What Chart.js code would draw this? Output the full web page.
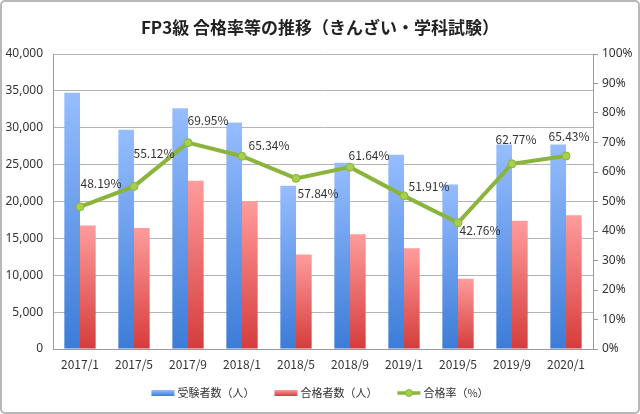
<!DOCTYPE html>
<html>
<head>
<meta charset="utf-8">
<script src="https://cdn.jsdelivr.net/npm/chart.js@4/dist/chart.umd.min.js"></script>
<style>
  html, body { margin: 0; padding: 0; background: #fff; }
  #wrap { width: 640px; height: 414px; position: relative; }
</style>
</head>
<body>
<div id="wrap"><canvas id="fp3-chart" width="640" height="414"></canvas></div>
<script>
// data
var labels = ["2017/1", "2017/5", "2017/9", "2018/1", "2018/5", "2018/9", "2019/1", "2019/5", "2019/9", "2020/1"];
var examinees = [34733, 29738, 32636, 30705, 22130, 25266, 26323, 22290, 27718, 27714];
var passers = [16740, 16392, 22829, 20062, 12800, 15574, 13664, 9531, 17399, 18133];
var passRate = [48.19, 55.12, 69.95, 65.34, 57.84, 61.64, 51.91, 42.76, 62.77, 65.43];
var leftTicks = [0, 5000, 10000, 15000, 20000, 25000, 30000, 35000, 40000];
var rightTicks = [0, 10, 20, 30, 40, 50, 60, 70, 80, 90, 100];

var FONT = '"Noto Sans CJK JP", "Noto Sans", sans-serif';
var GREEN = '#8ab43c';

// label nudges, as in the picture (px from point)
var labelOffsets = [[21, -23], [20, -33], [20, -22], [27, -11], [22, 15], [19, -12], [25, -9], [22, 8], [4, -24], [3, -20]];

function barGradient(top, bottom) {
  return function (c) {
    var chart = c.chart;
    var y = chart.scales.y;
    if (!y || c.dataIndex === undefined) return bottom;
    var v = c.dataset.data[c.dataIndex];
    var y0 = y.getPixelForValue(v), y1 = y.getPixelForValue(0);
    if (!isFinite(y0) || !isFinite(y1) || y0 === y1) return bottom;
    var g = chart.ctx.createLinearGradient(0, y0, 0, y1);
    g.addColorStop(0, top);
    g.addColorStop(1, bottom);
    return g;
  };
}

var framePlugin = {
  id: 'frame',
  beforeDraw: function (chart) {
    var ctx = chart.ctx;
    ctx.save();
    ctx.fillStyle = '#fff';
    ctx.fillRect(0, 0, chart.width, chart.height);
    ctx.strokeStyle = '#b8b8b8';
    ctx.lineWidth = 2;
    ctx.beginPath();
    ctx.roundRect(1, 1, chart.width - 2, chart.height - 2, 4);
    ctx.stroke();
    // title
    ctx.fillStyle = '#222';
    ctx.font = 'bold 17px ' + FONT;
    ctx.textAlign = 'center';
    ctx.textBaseline = 'middle';
    ctx.fillText('FP3級 合格率等の推移（きんざい・学科試験）', chart.width / 2, 28);
    ctx.restore();
  }
};

var rateLabels = {
  id: 'rateLabels',
  afterDatasetsDraw: function (chart) {
    var meta = chart.getDatasetMeta(2);
    var ctx = chart.ctx;
    ctx.save();
    ctx.font = '12px ' + FONT;
    ctx.fillStyle = '#333';
    ctx.textAlign = 'center';
    ctx.textBaseline = 'middle';
    meta.data.forEach(function (pt, i) {
      var o = labelOffsets[i];
      ctx.fillText(passRate[i].toFixed(2) + '%', pt.x + o[0], pt.y + o[1]);
    });
    ctx.restore();
  }
};

var bottomLegend = {
  id: 'bottomLegend',
  afterDraw: function (chart) {
    var ctx = chart.ctx;
    var items = [
      { text: '受験者数（人）', kind: 'bar', top: '#96bdfe', bottom: '#3c7cd8' },
      { text: '合格者数（人）', kind: 'bar', top: '#ff9c9c', bottom: '#d53c3c' },
      { text: '合格率（%）', kind: 'line' }
    ];
    ctx.save();
    ctx.font = '11px ' + FONT;
    var sym = 23, gap = 3, spacing = 20;
    var total = 0;
    items.forEach(function (it) {
      it.w = sym + gap + ctx.measureText(it.text).width;
      total += it.w;
    });
    total += spacing * (items.length - 1);
    var x = (chart.width - total) / 2;
    var y = 393;
    items.forEach(function (it) {
      if (it.kind === 'bar') {
        var g = ctx.createLinearGradient(0, y - 3, 0, y + 3);
        g.addColorStop(0, it.top);
        g.addColorStop(1, it.bottom);
        ctx.fillStyle = g;
        ctx.fillRect(x, y - 3, sym, 6);
      } else {
        ctx.strokeStyle = GREEN;
        ctx.lineWidth = 3.5;
        ctx.beginPath();
        ctx.moveTo(x, y);
        ctx.lineTo(x + sym, y);
        ctx.stroke();
        ctx.fillStyle = '#a6ce50';
        ctx.lineWidth = 1;
        ctx.beginPath();
        ctx.arc(x + sym / 2, y, 3.5, 0, Math.PI * 2);
        ctx.fill();
        ctx.stroke();
      }
      ctx.fillStyle = '#333';
      ctx.textAlign = 'left';
      ctx.textBaseline = 'middle';
      ctx.fillText(it.text, x + sym + gap, y);
      x += it.w + spacing;
    });
    ctx.restore();
  }
};

var ctx = document.getElementById('fp3-chart');

var chart = new Chart(ctx, {
  data: {
    labels: labels,
    datasets: [{
      type: 'bar',
      label: '受験者数（人）',
      data: examinees,
      yAxisID: 'y',
      backgroundColor: barGradient('#96bdfe', '#3c7cd8'),
      categoryPercentage: 0.58,
      barPercentage: 1.0,
      order: 2
    }, {
      type: 'bar',
      label: '合格者数（人）',
      data: passers,
      yAxisID: 'y',
      backgroundColor: barGradient('#ff9c9c', '#d53c3c'),
      categoryPercentage: 0.58,
      barPercentage: 1.0,
      order: 2
    }, {
      type: 'line',
      label: '合格率（%）',
      data: passRate,
      yAxisID: 'y2',
      borderColor: GREEN,
      borderWidth: 4,
      pointRadius: 4,
      pointBackgroundColor: '#a6ce50',
      pointBorderColor: GREEN,
      pointBorderWidth: 1,
      tension: 0,
      order: 1
    }]
  },
  options: {
    responsive: false,
    animation: false,
    layout: { padding: { top: 54, left: 0, right: 0, bottom: 35 } },
    plugins: {
      legend: { display: false },
      title: { display: false },
      tooltip: { enabled: false }
    },
    scales: {
      x: {
        grid: { display: false, drawTicks: false },
        border: { color: '#9a9a9a', width: 1 },
        ticks: { color: '#333', font: { family: FONT, size: 12 }, padding: 8, maxRotation: 0 },
        afterFit: function (s) { s.height = 30; }
      },
      y: {
        position: 'left',
        min: 0,
        max: 40000,
        afterBuildTicks: function (s) { s.ticks = leftTicks.map(function (v) { return { value: v }; }); },
        grid: { color: '#b4b4b4', drawTicks: false },
        border: { color: '#9a9a9a' },
        ticks: {
          color: '#333',
          font: { family: 'Noto Sans', size: 12 },
          padding: 10,
          callback: function (v) { return v.toLocaleString('en-US'); }
        },
        afterFit: function (s) { s.width = 53; }
      },
      y2: {
        position: 'right',
        min: 0,
        max: 100,
        afterBuildTicks: function (s) { s.ticks = rightTicks.map(function (v) { return { value: v }; }); },
        grid: { drawOnChartArea: false, tickLength: 5, color: '#9a9a9a' },
        border: { color: '#9a9a9a' },
        ticks: {
          color: '#333',
          font: { family: 'Noto Sans', size: 12 },
          padding: 4,
          callback: function (v) { return v + '%'; }
        },
        afterFit: function (s) { s.width = 47; }
      }
    }
  },
  plugins: [framePlugin, rateLabels, bottomLegend]
});
</script>
</body>
</html>
